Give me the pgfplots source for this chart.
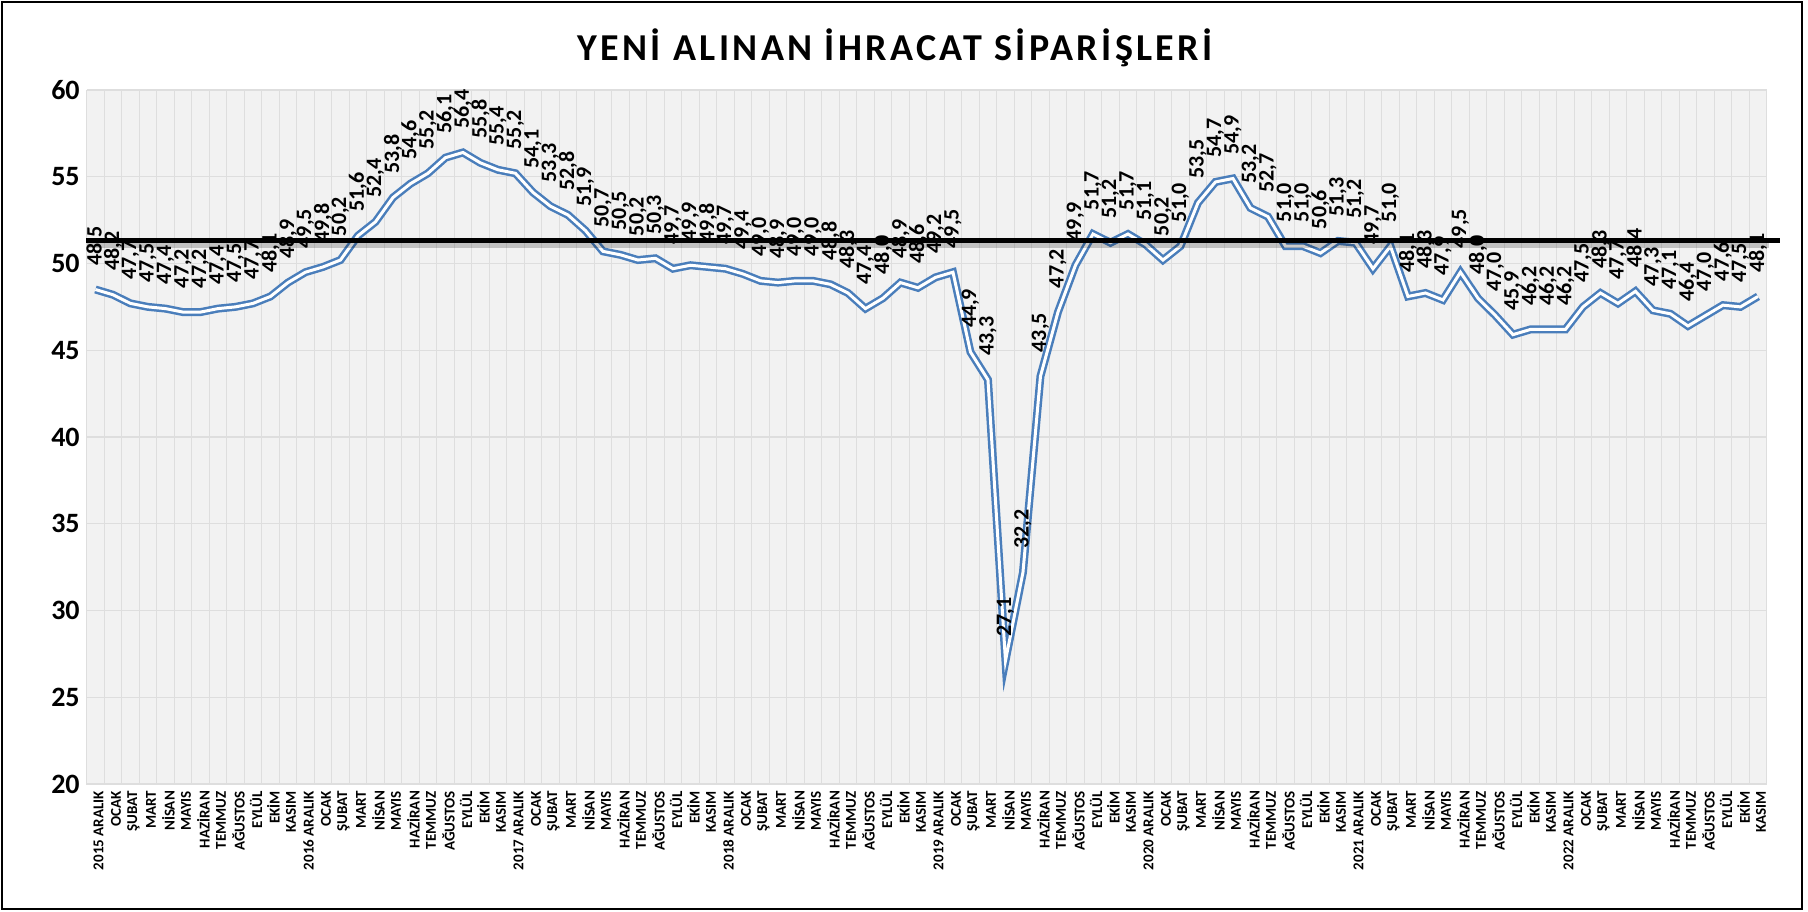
\documentclass[border=0pt]{standalone}
\usepackage{fontspec}
\setmainfont{Carlito}
\usepackage{pgfplots}
\usepackage{pgfplotstable}
\pgfplotsset{compat=1.18}
\definecolor{lineblue}{RGB}{74,126,187}
\definecolor{bggray}{RGB}{242,242,242}
\definecolor{gridgray}{RGB}{222,222,222}
\pgfplotstableread{
x y
1 48.5
2 48.2
3 47.7
4 47.5
5 47.4
6 47.2
7 47.2
8 47.4
9 47.5
10 47.7
11 48.1
12 48.9
13 49.5
14 49.8
15 50.2
16 51.6
17 52.4
18 53.8
19 54.6
20 55.2
21 56.1
22 56.4
23 55.8
24 55.4
25 55.2
26 54.1
27 53.3
28 52.8
29 51.9
30 50.7
31 50.5
32 50.2
33 50.3
34 49.7
35 49.9
36 49.8
37 49.7
38 49.4
39 49.0
40 48.9
41 49.0
42 49.0
43 48.8
44 48.3
45 47.4
46 48.0
47 48.9
48 48.6
49 49.2
50 49.5
51 44.9
52 43.3
53 27.1
54 32.2
55 43.5
56 47.2
57 49.9
58 51.7
59 51.2
60 51.7
61 51.1
62 50.2
63 51.0
64 53.5
65 54.7
66 54.9
67 53.2
68 52.7
69 51.0
70 51.0
71 50.6
72 51.3
73 51.2
74 49.7
75 51.0
76 48.1
77 48.3
78 47.9
79 49.5
80 48.0
81 47.0
82 45.9
83 46.2
84 46.2
85 46.2
86 47.5
87 48.3
88 47.7
89 48.4
90 47.3
91 47.1
92 46.4
93 47.0
94 47.6
95 47.5
96 48.1
}\datatable
\begin{document}
\begin{tikzpicture}
\begin{axis}[
  at={(43.35pt,63.5pt)}, anchor=south west,
  scale only axis, width=840pt, height=347pt,
  xmin=0.5, xmax=96.5, ymin=20, ymax=60,
  xtick={1,...,96},
  xticklabels={2015 ARALIK,OCAK,ŞUBAT,MART,NİSAN,MAYIS,HAZİRAN,TEMMUZ,AĞUSTOS,EYLÜL,EKİM,KASIM,
    2016 ARALIK,OCAK,ŞUBAT,MART,NİSAN,MAYIS,HAZİRAN,TEMMUZ,AĞUSTOS,EYLÜL,EKİM,KASIM,
    2017 ARALIK,OCAK,ŞUBAT,MART,NİSAN,MAYIS,HAZİRAN,TEMMUZ,AĞUSTOS,EYLÜL,EKİM,KASIM,
    2018 ARALIK,OCAK,ŞUBAT,MART,NİSAN,MAYIS,HAZİRAN,TEMMUZ,AĞUSTOS,EYLÜL,EKİM,KASIM,
    2019 ARALIK,OCAK,ŞUBAT,MART,NİSAN,MAYIS,HAZİRAN,TEMMUZ,AĞUSTOS,EYLÜL,EKİM,KASIM,
    2020 ARALIK,OCAK,ŞUBAT,MART,NİSAN,MAYIS,HAZİRAN,TEMMUZ,AĞUSTOS,EYLÜL,EKİM,KASIM,
    2021 ARALIK,OCAK,ŞUBAT,MART,NİSAN,MAYIS,HAZİRAN,TEMMUZ,AĞUSTOS,EYLÜL,EKİM,KASIM,
    2022 ARALIK,OCAK,ŞUBAT,MART,NİSAN,MAYIS,HAZİRAN,TEMMUZ,AĞUSTOS,EYLÜL,EKİM,KASIM},
  ytick={20,25,...,60},
  minor xtick={0.5,1.5,...,96.5},
  xmajorgrids=false, xminorgrids=true, ymajorgrids=true,
  minor grid style={draw=gridgray, line width=0.7pt},
  major grid style={draw=gridgray, line width=0.7pt},
  axis background/.style={fill=bggray},
  axis line style={draw=gridgray},
  major tick length=0pt, minor tick length=0pt,
  /pgf/number format/assume math mode=true,
  yticklabel style={font=\bfseries\fontsize{14}{16}\selectfont},
  xticklabel style={rotate=90, anchor=east, font=\bfseries\fontsize{7.5}{8}\selectfont, yshift=-1.5pt},
  clip=false,
  nodes near coords={\pgfmathprintnumber[fixed,fixed zerofill,precision=1,use comma,assume math mode=true]{\pgfplotspointmeta}},
  every node near coord/.append style={rotate=90, anchor=west, inner sep=0pt, outer xsep=12pt, text=black, font=\bfseries\fontsize{11}{12}\selectfont},
]
\addplot[draw=lineblue, line width=1.25pt, double=white, double distance=1.5pt, line join=miter, mark=none] table[x=x,y=y] {\datatable};
\draw[line width=3pt, black, opacity=0.2] (axis cs:0.46,51.3) ++(0.5pt,-2pt) -- ++(841pt,0pt);
\draw[line width=2.5pt, black] (axis cs:0.46,51.3) -- (axis cs:97.25,51.3);
\end{axis}
\node[font=\bfseries\fontsize{19}{24}\selectfont\addfontfeature{LetterSpace=9}] at (447.5pt,431.5pt) {YENİ ALINAN İHRACAT SİPARİŞLERİ};
\draw[line width=1pt] (1pt,1pt) rectangle (901pt,454.5pt);
\pgfresetboundingbox
\useasboundingbox (0,0) rectangle (904pt,455.5pt);
\end{tikzpicture}
\end{document}
